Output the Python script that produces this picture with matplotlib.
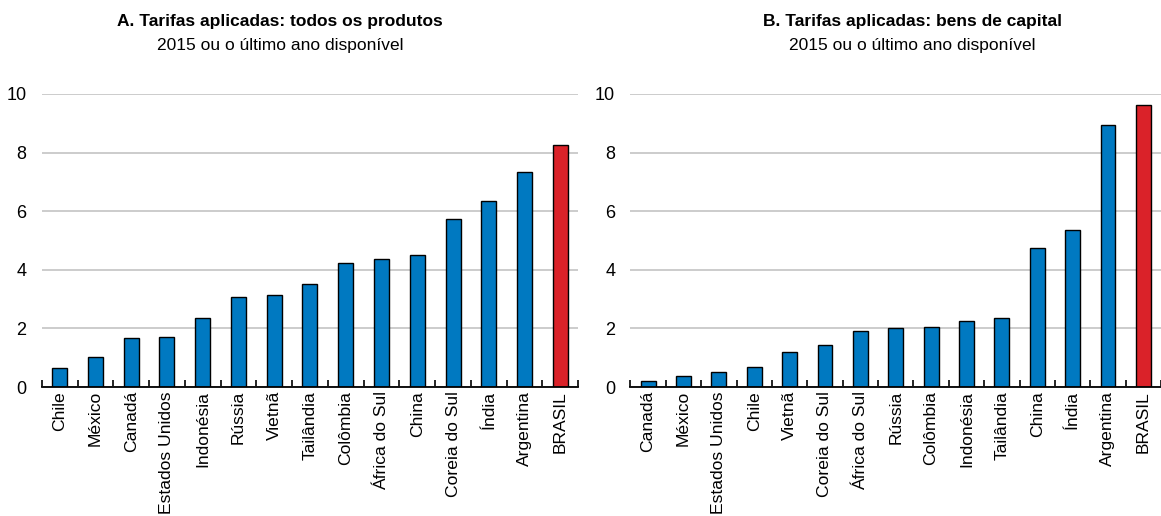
import matplotlib
matplotlib.use("Agg")
from matplotlib import pyplot as plt
from matplotlib import font_manager

# condensed font like the original, fallback to Liberation Sans
names = [f.name for f in font_manager.fontManager.ttflist]
if 'Liberation Sans Narrow' in names:
    plt.rcParams['font.family'] = ['Liberation Sans Narrow', 'DejaVu Sans']
else:
    plt.rcParams['font.family'] = ['Liberation Sans', 'DejaVu Sans']

countriesA = ['Chile', 'México', 'Canadá', 'Estados Unidos', 'Indonésia', 'Rússia', 'Vietnã',
              'Tailândia', 'Colômbia', 'África do Sul', 'China', 'Coreia do Sul', 'Índia',
              'Argentina', 'BRASIL']
valuesA = [0.64, 1.02, 1.66, 1.69, 2.37, 3.08, 3.14, 3.53, 4.23, 4.38, 4.52, 5.72, 6.34, 7.35, 8.26]

countriesB = ['Canadá', 'México', 'Estados Unidos', 'Chile', 'Vietnã', 'Coreia do Sul',
              'África do Sul', 'Rússia', 'Colômbia', 'Indonésia', 'Tailândia', 'China', 'Índia',
              'Argentina', 'BRASIL']
valuesB = [0.20, 0.39, 0.50, 0.69, 1.19, 1.45, 1.90, 2.03, 2.06, 2.24, 2.34, 4.75, 5.34, 8.94, 9.63]

titles = ['A. Tarifas aplicadas: todos os produtos', 'B. Tarifas aplicadas: bens de capital']
subtitle = '2015 ou o último ano disponível'

blue = '#0079C1'
red = '#DA2229'

fig = plt.figure(figsize=(11.61, 5.16), dpi=100)
axA = fig.add_axes([0.036, 0.25, 0.462, 0.568])
axB = fig.add_axes([0.543, 0.25, 0.457, 0.568])


def plotPanel(ax, countries, values):
    colors = [red if c == 'BRASIL' else blue for c in countries]
    x = list(range(len(countries)))
    ax.bar(x, values, width=0.42, color=colors, edgecolor='black', linewidth=1, zorder=3)
    ax.set_xlim(-0.5, len(countries) - 0.5)
    ax.set_ylim(0, 10)
    ax.set_yticks([0, 2, 4, 6, 8, 10])
    ax.yaxis.grid(True, color='#C8C8C8', linewidth=1.3, zorder=0)
    for s in ['top', 'right', 'left']:
        ax.spines[s].set_visible(False)
    ax.spines['bottom'].set_linewidth(1.3)
    ax.spines['bottom'].set_zorder(4)
    ax.tick_params(axis='y', length=0, labelsize=13, pad=11)
    # category labels, ticks at boundaries pointing up
    ax.set_xticks(x)
    ax.set_xticklabels(countries, rotation=90, fontsize=12.6)
    ax.tick_params(axis='x', which='major', length=0, pad=3)
    ax.set_xticks([i - 0.5 for i in range(len(countries) + 1)], minor=True)
    ax.tick_params(axis='x', which='minor', direction='in', length=5, width=1.2)


plotPanel(axA, countriesA, valuesA)
plotPanel(axB, countriesB, valuesB)

fig.text(0.241, 0.958, titles[0], ha='center', va='center', fontsize=12.5, fontweight='bold')
fig.text(0.241, 0.911, subtitle, ha='center', va='center', fontsize=12.5)
fig.text(0.786, 0.958, titles[1], ha='center', va='center', fontsize=12.5, fontweight='bold')
fig.text(0.786, 0.911, subtitle, ha='center', va='center', fontsize=12.5)

plt.savefig('out.png', dpi=100)
